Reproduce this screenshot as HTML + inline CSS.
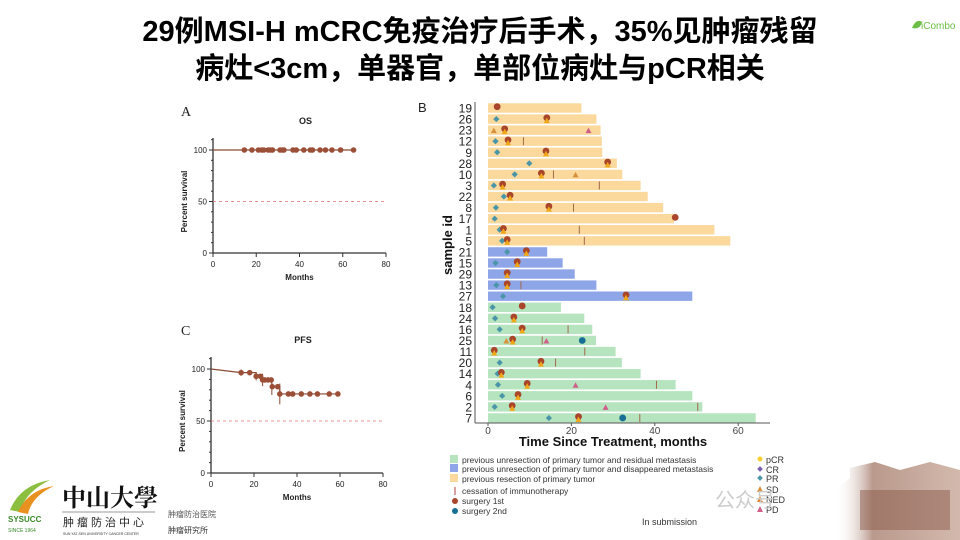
<!DOCTYPE html>
<html><head><meta charset="utf-8"><style>
body{margin:0;width:960px;height:540px;background:#fff;overflow:hidden;font-family:"Liberation Sans","Noto Sans CJK SC",sans-serif}
.t{position:absolute;left:0;width:960px;text-align:center;font-weight:bold;font-size:29px;color:#000;line-height:34px}
</style></head><body>
<div class="t" style="top:15px">29例MSI-H mCRC免疫治疗后手术，35%见肿瘤残留</div>
<div class="t" style="top:52px">病灶&lt;3cm，单器官，单部位病灶与pCR相关</div>
<svg id="s" width="960" height="540" style="position:absolute;left:0;top:0" font-family="Liberation Sans, sans-serif"></svg>
<script>
const s=document.getElementById('s');let h='';
function T(x,y,t,sz,a,w,c,extra){h+=`<text x="${x}" y="${y}" font-size="${sz}" text-anchor="${a||'start'}" font-weight="${w||'normal'}" fill="${c||'#222'}" ${extra||''}>${t}</text>`}
h+=`<path d="M912 28 q4 -10 10 -6 q-2 8 -10 6z" fill="#6cbd45"/>`;T(921,29,'iCombo',10,'start','normal','#6cbd45');
function km(x0,x1,y100,y0,title,ty,lbl){
 T(181,ty-8,lbl,14,'start','normal','#222','font-family="Liberation Serif"');
 T((x0+x1)/2+6,ty,title,9,'middle','bold');
 h+=`<line x1="${x0}" y1="${y100-12}" x2="${x0}" y2="${y0}" stroke="#333" stroke-width="1.3"/><line x1="${x0}" y1="${y0}" x2="${x1}" y2="${y0}" stroke="#333" stroke-width="1.3"/>`;
 for(let i=0;i<=11;i++){let y=y0-(y0-y100)*i/10;h+=`<line x1="${x0-(i%5==0?4:2)}" y1="${y}" x2="${x0}" y2="${y}" stroke="#333"/>`}
 [0,50,100].forEach(v=>T(x0-6,y0-(y0-y100)*v/100+3,v,8,'end'));
 for(let m=0;m<=80;m+=20){let x=x0+(x1-x0)*m/80;h+=`<line x1="${x}" y1="${y0}" x2="${x}" y2="${y0+4}" stroke="#333"/>`;T(x,y0+14,m,8,'middle')}
 T((x0+x1)/2,y0+27,'Months',8,'middle','bold');
 T(0,0,'Percent survival',8,'middle','bold','#222',`transform="translate(${x0-26},${(y0+y100)/2}) rotate(-90)"`);
 h+=`<line x1="${x0}" y1="${(y0+y100)/2}" x2="${x1}" y2="${(y0+y100)/2}" stroke="#e07070" stroke-dasharray="3,3" stroke-width="0.8"/>`;
}
km(213,386,150,253,'OS',124,'A');
let X=m=>213+m*173/80;
h+=`<line x1="213" y1="150" x2="${X(65)}" y2="150" stroke="#8a4a35" stroke-width="1.2"/>`;
[14.5,18,21,22.5,23.5,25.5,26.5,27.5,31,32,32.8,37,38.5,42,45,46,49.5,52,55,59,65].forEach(m=>h+=`<circle cx="${X(m)}" cy="150" r="2.8" fill="#9c4f37"/>`);
km(211,383,369,473,'PFS',343,'C');
let X2=m=>211+m*172/80,Y2=v=>473-v*1.04;
let pts=[[0,100],[14,96.5],[21,93],[24,89.5],[28.3,83],[32,76],[59,76]];
let d=`M${X2(0)} ${Y2(100)} L${X2(14)} ${Y2(96.5)}`;
for(let i=1;i<pts.length-1;i++){d+=` H${X2(pts[i+1][0])} V${Y2(pts[i+1][1])}`}
d+=` H${X2(59)}`;
h+=`<path d="${d}" fill="none" stroke="#8a4a35" stroke-width="1.2"/>`;
[[14,96.5,3],[21,93,4],[24,89.5,6],[28.3,83,8],[32,76,10]].forEach(([m,v,e])=>h+=`<line x1="${X2(m)}" y1="${Y2(v-e)}" x2="${X2(m)}" y2="${Y2(v+e)}" stroke="#8a4a35"/>`);
[[14,96.5],[18,96.5],[21,93],[23,93],[24,89.5],[25,89.5],[26.5,89.5],[28,89.5],[28.5,83],[31,83],[32,76],[36,76],[38,76],[42,76],[46,76],[49.5,76],[55,76],[59,76]].forEach(([m,v])=>h+=`<circle cx="${X2(m)}" cy="${Y2(v)}" r="2.8" fill="#9c4f37"/>`);
T(418,112,'B',13);
let BX=m=>488+m*4.17;
const C={o:'#fbd89c',b:'#8ea6e8',g:'#b6e4bf'};
const rows=[
[19,'o',22.4,{S:[2.2],c:1}],[26,'o',26,{P:[2],S:[14.1]}],[23,'o',27,{D:[1.4],S:[4],Q:[24.1]}],[12,'o',27.3,{P:[1.8],S:[4.8],K:[8.5]}],
[9,'o',27.4,{P:[2.2],S:[13.9]}],[28,'o',30.9,{P:[9.9],S:[28.7]}],[10,'o',32.2,{P:[6.4],S:[12.8],K:[15.7],D:[21]}],[3,'o',36.6,{P:[1.4],S:[3.5],K:[26.7]}],
[22,'o',38.3,{P:[3.8],S:[5.3]}],[8,'o',42,{P:[1.9],S:[14.6],K:[20.5]}],[17,'o',44.6,{P:[1.6],S:[44.9]}],[1,'o',54.3,{P:[2.8],S:[3.7],K:[21.9]}],
[5,'o',58.1,{P:[3.4],S:[4.6],K:[23.1]}],[21,'b',14.2,{P:[4.6],S:[9.2]}],[15,'b',17.9,{P:[1.8],S:[7]}],[29,'b',20.8,{S:[4.6]}],
[13,'b',26,{P:[2],S:[4.6],K:[7.9]}],[27,'b',49,{P:[3.6],S:[33.1]}],[18,'g',17.5,{P:[1.1],S:[8.2]}],[24,'g',23.1,{P:[1.7],S:[6.2]}],
[16,'g',25,{P:[2.8],S:[8.2],K:[19.2]}],[25,'g',25.9,{D:[4.4],S:[5.9],K:[13],Q:[14],T:[22.6]}],[11,'g',30.6,{S:[1.5],K:[23.2]}],[20,'g',32.1,{P:[2.8],S:[12.7],K:[16.2]}],
[14,'g',36.6,{P:[2.3],S:[3.2]}],[4,'g',45,{P:[2.4],S:[9.4],Q:[21],K:[40.4]}],[6,'g',49,{P:[3.4],S:[7.2]}],[2,'g',51.4,{P:[1.6],S:[5.8],Q:[28.2],K:[50.3]}],
[7,'g',64.2,{P:[14.6],S:[21.7],T:[32.3],K:[36.4]}]];
rows.forEach((r,i)=>{let y=108+i*11.07;
 h+=`<rect x="488" y="${y-4.7}" width="${r[2]*4.17}" height="9.4" fill="${C[r[1]]}"/>`;
 T(472,y+4.5,r[0],12,'end');
 let o=r[3];
 (o.K||[]).forEach(m=>h+=`<line x1="${BX(m)}" y1="${y-4}" x2="${BX(m)}" y2="${y+4}" stroke="#a06a4a" stroke-width="1"/>`);
 (o.P||[]).forEach(m=>h+=`<rect x="${BX(m)-2.2}" y="${y-2.2}" width="4.4" height="4.4" fill="#4a96a8" transform="rotate(45 ${BX(m)} ${y})"/>`);
 (o.D||[]).forEach(m=>h+=`<path d="M${BX(m)-3} ${y+3} L${BX(m)} ${y-2.5} L${BX(m)+3} ${y+3}Z" fill="#d8903a"/>`);
 (o.Q||[]).forEach(m=>h+=`<path d="M${BX(m)-3} ${y+3} L${BX(m)} ${y-2.5} L${BX(m)+3} ${y+3}Z" fill="#d0608a"/>`);
 (o.S||[]).forEach(m=>{h+=`<circle cx="${BX(m)}" cy="${y-1.3}" r="3.4" fill="#a8452a"/>`;if(!o.c&&r[0]!=17&&r[0]!=18)h+=`<path d="M${BX(m)-3} ${y+4} L${BX(m)} ${y-1.5} L${BX(m)+3} ${y+4}Z" fill="#f0a818"/>`});
 (o.T||[]).forEach(m=>h+=`<circle cx="${BX(m)}" cy="${y}" r="3.4" fill="#176f94"/>`);
});
h+=`<line x1="475" y1="102" x2="475" y2="423" stroke="#555"/><line x1="475" y1="423" x2="770" y2="423" stroke="#555"/>`;
[0,20,40,60].forEach(m=>{h+=`<line x1="${BX(m)}" y1="423" x2="${BX(m)}" y2="426" stroke="#555"/>`;T(BX(m),434,m,10,'middle','normal','#444')});
T(613,446,'Time Since Treatment, months',13,'middle','bold','#111');
T(0,0,'sample id',13,'middle','bold','#111','transform="translate(452,245) rotate(-90)"');
[['#b6e4bf','previous unresection of primary tumor and residual metastasis',460],['#8ea6e8','previous unresection of primary tumor and disappeared metastasis',469],['#fbd89c','previous resection of primary tumor',479]].forEach(([c,t,y])=>{h+=`<rect x="450" y="${y-5}" width="8" height="8" fill="${c}"/>`;T(462,y+3,t,8.5,'start','normal','#333')});
h+=`<line x1="455" y1="487" x2="455" y2="495" stroke="#b04040"/>`;T(462,494,'cessation of immunotherapy',8.5,'start','normal','#333');
h+=`<circle cx="455" cy="501" r="3" fill="#a8452a"/>`;T(462,504,'surgery 1st',8.5,'start','normal','#333');
h+=`<circle cx="455" cy="511" r="3" fill="#176f94"/>`;T(462,514,'surgery 2nd',8.5,'start','normal','#333');
[['#f5d030','pCR',460,'c'],['#7a60b0','CR',470,'d'],['#4a96a8','PR',479,'d'],['#d8903a','SD',490,'t'],['#e8802a','NED',500,'t'],['#d0608a','PD',510,'t']].forEach(([c,t,y,k])=>{
 if(k=='c')h+=`<circle cx="760" cy="${y-1}" r="2.5" fill="${c}"/>`;
 else if(k=='d')h+=`<rect x="758" y="${y-3}" width="4" height="4" fill="${c}" transform="rotate(45 760 ${y-1})"/>`;
 else h+=`<path d="M757 ${y+2} L760 ${y-4} L763 ${y+2}Z" fill="${c}"/>`;
 T(766,y+3,t,9,'start','normal','#333')});
T(642,525,'In submission',9,'start','normal','#333');
h+=`<path d="M10 510 q10 -25 40 -30 q-25 12 -30 32z" fill="#8cbf3f"/><path d="M18 512 q10 -22 36 -26 q-22 10 -26 28z" fill="#e89020"/>`;
T(8,522,'SYSUCC',8,'start','bold','#3a8a2a');T(8,532,'SINCE 1964',5,'start','normal','#3a8a2a');
h+=`<text x="62" y="506" font-size="24" font-weight="bold" font-family="Noto Serif CJK SC, serif" fill="#111">中山大學</text>`;
h+=`<line x1="62" y1="512" x2="155" y2="512" stroke="#999"/>`;
T(63,526,'肿瘤防治中心',11,'start','normal','#222','font-family="Noto Sans CJK SC, sans-serif" letter-spacing="3"');
T(63,535,'SUN YAT-SEN UNIVERSITY CANCER CENTER',3.5,'start','normal','#333');
T(168,517,'肿瘤防治医院',8,'start','normal','#555','font-family="Noto Sans CJK SC, sans-serif"');
T(168,533,'肿瘤研究所',8,'start','normal','#333','font-family="Noto Sans CJK SC, sans-serif"');
h+=`<text x="715" y="507" font-size="20" fill="#ccc" font-family="Noto Sans CJK SC, sans-serif">公众号</text>`;
h+=`<defs><linearGradient id="g" x1="0" y1="0" x2="1" y2="0"><stop offset="0" stop-color="#fff" stop-opacity="0"/><stop offset="0.3" stop-color="#a88070"/><stop offset="1" stop-color="#c8a898"/></linearGradient></defs>`;
h+=`<path d="M835 540 V490 L850 478 V468 L875 462 L900 470 L930 462 L960 470 V540Z" fill="url(#g)" opacity="0.8"/>`;
h+=`<rect x="860" y="490" width="90" height="40" fill="#8a5a4a" opacity="0.5"/>`;
s.innerHTML=h;
</script>
</body></html>
